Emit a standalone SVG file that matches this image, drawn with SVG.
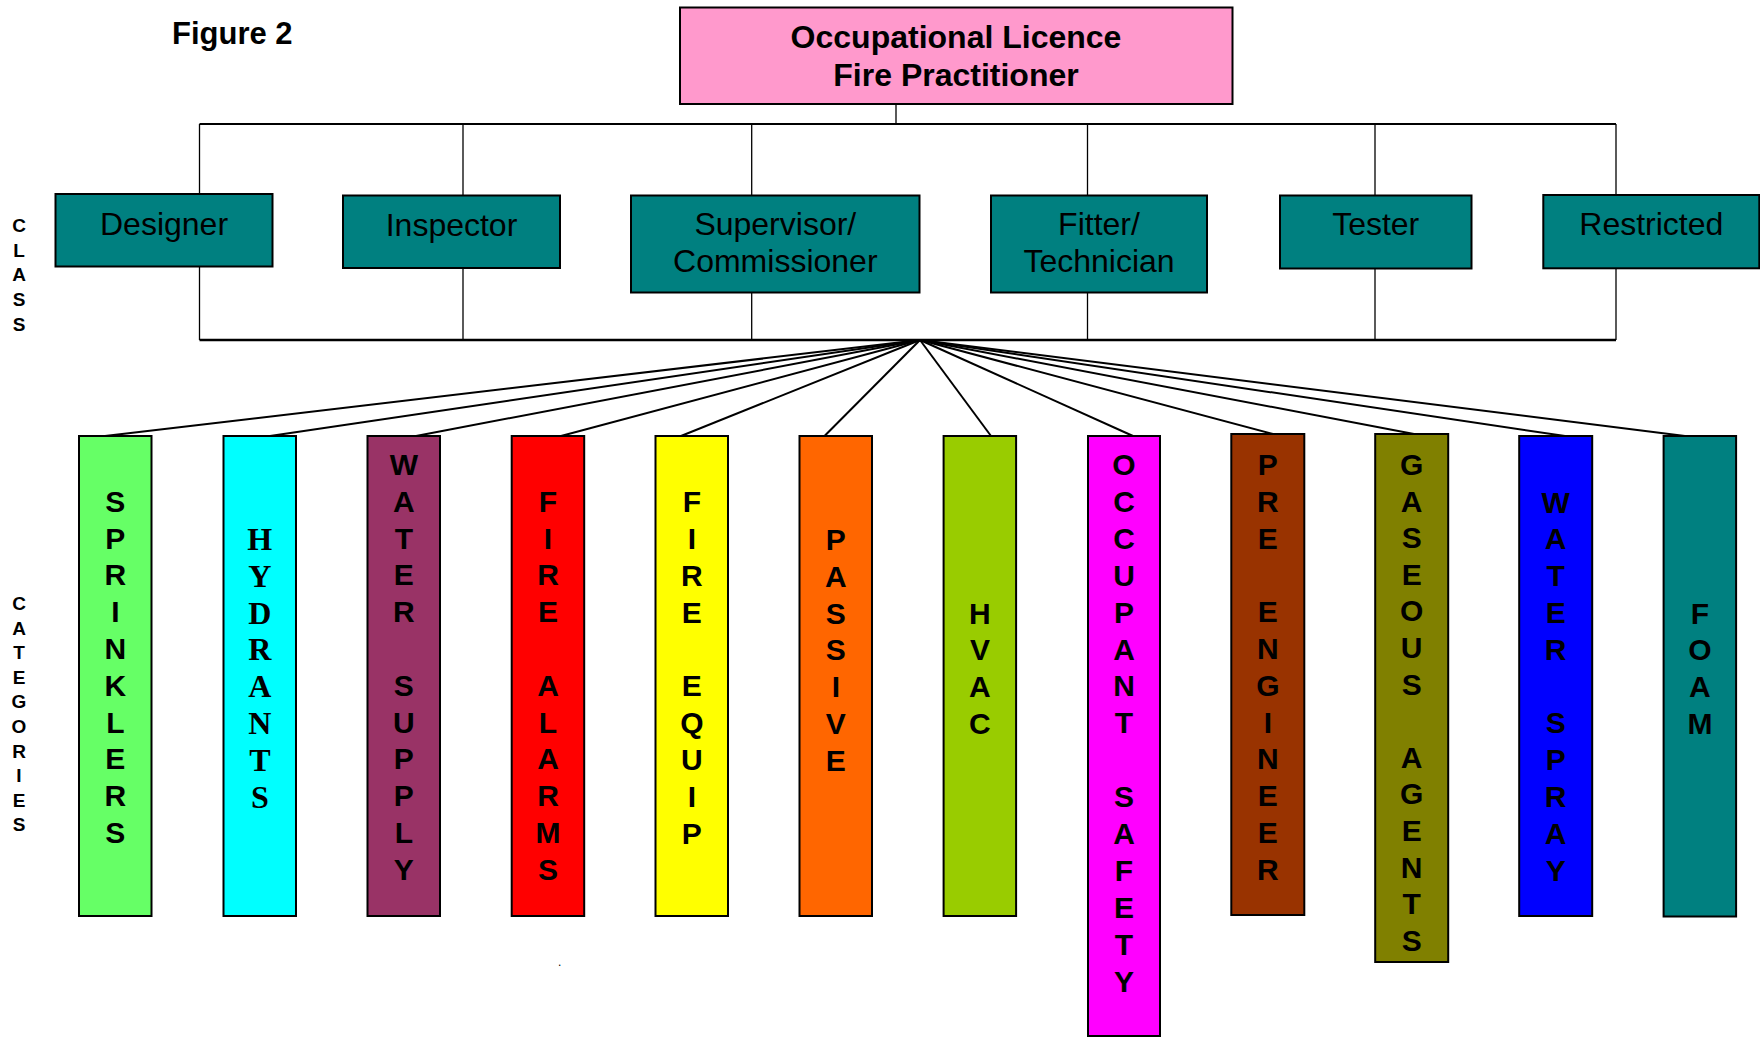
<svg xmlns="http://www.w3.org/2000/svg" width="1760" height="1037" viewBox="0 0 1760 1037">
<style>
  .box{stroke:#000;stroke-width:2}
  .cls{fill:#008080}
  .t{font-family:"Liberation Sans",Arial,sans-serif;fill:#000}
  .ct{font-size:32px;text-anchor:middle}
  .title{font-size:32px;font-weight:bold;text-anchor:middle}
  .side{font-size:19px;font-weight:bold;text-anchor:middle}
  .cat{font-size:30px;font-weight:bold;text-anchor:middle}
  .serif{font-family:"Liberation Serif","Times New Roman",serif;font-size:32px;font-weight:bold;text-anchor:middle;fill:#000}
  .ln{stroke:#000;fill:none}
</style>
<rect width="1760" height="1037" fill="#fff"/>

<text class="t" x="172" y="44" font-size="31" font-weight="bold">Figure 2</text>

<g id="side-labels">
  <text class="t side"><tspan x="19" y="232">C</tspan><tspan x="19" y="256.7">L</tspan><tspan x="19" y="281.4">A</tspan><tspan x="19" y="306.1">S</tspan><tspan x="19" y="330.8">S</tspan></text>
  <text class="t side"><tspan x="19" y="610">C</tspan><tspan x="19" y="634.6">A</tspan><tspan x="19" y="659.2">T</tspan><tspan x="19" y="683.8">E</tspan><tspan x="19" y="708.4">G</tspan><tspan x="19" y="733">O</tspan><tspan x="19" y="757.6">R</tspan><tspan x="19" y="782.2">I</tspan><tspan x="19" y="806.8">E</tspan><tspan x="19" y="831.4">S</tspan></text>
</g>

<g id="connectors">
  <line class="ln" x1="896" y1="104" x2="896" y2="124" stroke-width="1.3"/>
  <line class="ln" x1="199.5" y1="124" x2="1616" y2="124" stroke-width="2"/>
  <line class="ln" x1="199.5" y1="340" x2="1616" y2="340" stroke-width="2.5"/>
  <g stroke-width="1.3" class="ln">
    <line x1="199.5" y1="124" x2="199.5" y2="340"/>
    <line x1="463" y1="124" x2="463" y2="340"/>
    <line x1="751.7" y1="124" x2="751.7" y2="340"/>
    <line x1="1087.5" y1="124" x2="1087.5" y2="340"/>
    <line x1="1375" y1="124" x2="1375" y2="340"/>
    <line x1="1616" y1="124" x2="1616" y2="340"/>
  </g>
  <g stroke-width="2" class="ln">
    <line x1="920" y1="340" x2="105" y2="436"/>
    <line x1="920" y1="340" x2="270" y2="436"/>
    <line x1="920" y1="340" x2="416" y2="436"/>
    <line x1="920" y1="340" x2="561" y2="436"/>
    <line x1="920" y1="340" x2="681" y2="436"/>
    <line x1="920" y1="340" x2="824.5" y2="436"/>
    <line x1="920" y1="340" x2="991" y2="436"/>
    <line x1="920" y1="340" x2="1133" y2="436"/>
    <line x1="920" y1="340" x2="1273" y2="434"/>
    <line x1="920" y1="340" x2="1414" y2="434"/>
    <line x1="920" y1="340" x2="1565" y2="436"/>
    <line x1="920" y1="340" x2="1685" y2="436"/>
  </g>
</g>

<g id="root">
  <rect class="box" x="680" y="7.5" width="552.5" height="96.5" fill="#FF99CC"/>
  <text class="t title" x="956" y="48">Occupational Licence</text>
  <text class="t title" x="956" y="85.5">Fire Practitioner</text>
</g>

<g id="designer">
  <rect class="box cls" x="55.5" y="194" width="217" height="72.5"/>
  <text class="t ct" x="164" y="235">Designer</text>
</g>
<g id="inspector">
  <rect class="box cls" x="343" y="195.5" width="217" height="72.5"/>
  <text class="t ct" x="451.5" y="236">Inspector</text>
</g>
<g id="supervisor">
  <rect class="box cls" x="631" y="195.5" width="288.5" height="97"/>
  <text class="t ct" x="775.3" y="235">Supervisor/</text>
  <text class="t ct" x="775.3" y="272">Commissioner</text>
</g>
<g id="fitter">
  <rect class="box cls" x="991" y="195.5" width="216" height="97"/>
  <text class="t ct" x="1099" y="235">Fitter/</text>
  <text class="t ct" x="1099" y="272">Technician</text>
</g>
<g id="tester">
  <rect class="box cls" x="1280" y="195.5" width="191.5" height="73"/>
  <text class="t ct" x="1375.7" y="235">Tester</text>
</g>
<g id="restricted">
  <rect class="box cls" x="1543.3" y="195" width="216" height="73.3"/>
  <text class="t ct" x="1651.3" y="235">Restricted</text>
</g>

<g id="sprinklers">
  <rect class="box" x="79" y="436" width="72.5" height="480" fill="#66FF66"/>
  <text class="t cat"><tspan x="115.3" y="511.7">S</tspan><tspan x="115.3" y="548.5">P</tspan><tspan x="115.3" y="585.3">R</tspan><tspan x="115.3" y="622.1">I</tspan><tspan x="115.3" y="658.9">N</tspan><tspan x="115.3" y="695.7">K</tspan><tspan x="115.3" y="732.5">L</tspan><tspan x="115.3" y="769.3">E</tspan><tspan x="115.3" y="806.1">R</tspan><tspan x="115.3" y="842.9">S</tspan></text>
</g>
<g id="hydrants">
  <rect class="box" x="223.5" y="436" width="72.5" height="480" fill="#00FFFF"/>
  <text class="serif"><tspan x="259.8" y="550">H</tspan><tspan x="259.8" y="586.8">Y</tspan><tspan x="259.8" y="623.6">D</tspan><tspan x="259.8" y="660.4">R</tspan><tspan x="259.8" y="697.2">A</tspan><tspan x="259.8" y="734">N</tspan><tspan x="259.8" y="770.8">T</tspan><tspan x="259.8" y="807.6">S</tspan></text>
</g>
<g id="water-supply">
  <rect class="box" x="367.5" y="436" width="72.5" height="480" fill="#993366"/>
  <text class="t cat"><tspan x="403.8" y="475">W</tspan><tspan x="403.8" y="511.8">A</tspan><tspan x="403.8" y="548.6">T</tspan><tspan x="403.8" y="585.4">E</tspan><tspan x="403.8" y="622.2">R</tspan><tspan x="403.8" y="695.8">S</tspan><tspan x="403.8" y="732.6">U</tspan><tspan x="403.8" y="769.4">P</tspan><tspan x="403.8" y="806.2">P</tspan><tspan x="403.8" y="843">L</tspan><tspan x="403.8" y="879.8">Y</tspan></text>
</g>
<g id="fire-alarms">
  <rect class="box" x="511.7" y="436" width="72.5" height="480" fill="#FF0000"/>
  <text class="t cat"><tspan x="548" y="511.7">F</tspan><tspan x="548" y="548.5">I</tspan><tspan x="548" y="585.3">R</tspan><tspan x="548" y="622.1">E</tspan><tspan x="548" y="695.7">A</tspan><tspan x="548" y="732.5">L</tspan><tspan x="548" y="769.3">A</tspan><tspan x="548" y="806.1">R</tspan><tspan x="548" y="842.9">M</tspan><tspan x="548" y="879.7">S</tspan></text>
</g>
<g id="fire-equip">
  <rect class="box" x="655.5" y="436" width="72.5" height="480" fill="#FFFF00"/>
  <text class="t cat"><tspan x="691.8" y="512.3">F</tspan><tspan x="691.8" y="549.1">I</tspan><tspan x="691.8" y="585.9">R</tspan><tspan x="691.8" y="622.7">E</tspan><tspan x="691.8" y="696.3">E</tspan><tspan x="691.8" y="733.1">Q</tspan><tspan x="691.8" y="769.9">U</tspan><tspan x="691.8" y="806.7">I</tspan><tspan x="691.8" y="843.5">P</tspan></text>
</g>
<g id="passive">
  <rect class="box" x="799.5" y="436" width="72.5" height="480" fill="#FF6600"/>
  <text class="t cat"><tspan x="835.8" y="550">P</tspan><tspan x="835.8" y="586.8">A</tspan><tspan x="835.8" y="623.6">S</tspan><tspan x="835.8" y="660.4">S</tspan><tspan x="835.8" y="697.2">I</tspan><tspan x="835.8" y="734">V</tspan><tspan x="835.8" y="770.8">E</tspan></text>
</g>
<g id="hvac">
  <rect class="box" x="943.6" y="436" width="72.5" height="480" fill="#99CC00"/>
  <text class="t cat"><tspan x="979.9" y="623.5">H</tspan><tspan x="979.9" y="660.3">V</tspan><tspan x="979.9" y="697.1">A</tspan><tspan x="979.9" y="733.9">C</tspan></text>
</g>
<g id="occupant-safety">
  <rect class="box" x="1088" y="436" width="72" height="600" fill="#FF00FF"/>
  <text class="t cat"><tspan x="1124" y="475">O</tspan><tspan x="1124" y="511.9">C</tspan><tspan x="1124" y="548.8">C</tspan><tspan x="1124" y="585.7">U</tspan><tspan x="1124" y="622.6">P</tspan><tspan x="1124" y="659.5">A</tspan><tspan x="1124" y="696.4">N</tspan><tspan x="1124" y="733.3">T</tspan><tspan x="1124" y="807.1">S</tspan><tspan x="1124" y="844">A</tspan><tspan x="1124" y="880.9">F</tspan><tspan x="1124" y="917.8">E</tspan><tspan x="1124" y="954.7">T</tspan><tspan x="1124" y="991.6">Y</tspan></text>
</g>
<g id="pre-engineer">
  <rect class="box" x="1231.3" y="434" width="73" height="481" fill="#993300"/>
  <text class="t cat"><tspan x="1267.8" y="475">P</tspan><tspan x="1267.8" y="511.8">R</tspan><tspan x="1267.8" y="548.6">E</tspan><tspan x="1267.8" y="622.2">E</tspan><tspan x="1267.8" y="659">N</tspan><tspan x="1267.8" y="695.8">G</tspan><tspan x="1267.8" y="732.6">I</tspan><tspan x="1267.8" y="769.4">N</tspan><tspan x="1267.8" y="806.2">E</tspan><tspan x="1267.8" y="843">E</tspan><tspan x="1267.8" y="879.8">R</tspan></text>
</g>
<g id="gaseous-agents">
  <rect class="box" x="1375.2" y="434" width="73" height="528" fill="#808000"/>
  <text class="t cat"><tspan x="1411.7" y="475">G</tspan><tspan x="1411.7" y="511.6">A</tspan><tspan x="1411.7" y="548.2">S</tspan><tspan x="1411.7" y="584.8">E</tspan><tspan x="1411.7" y="621.4">O</tspan><tspan x="1411.7" y="658">U</tspan><tspan x="1411.7" y="694.6">S</tspan><tspan x="1411.7" y="767.8">A</tspan><tspan x="1411.7" y="804.4">G</tspan><tspan x="1411.7" y="841">E</tspan><tspan x="1411.7" y="877.6">N</tspan><tspan x="1411.7" y="914.2">T</tspan><tspan x="1411.7" y="950.8">S</tspan></text>
</g>
<g id="water-spray">
  <rect class="box" x="1519.2" y="436" width="73" height="480" fill="#0000FF"/>
  <text class="t cat"><tspan x="1555.7" y="512.5">W</tspan><tspan x="1555.7" y="549.3">A</tspan><tspan x="1555.7" y="586.1">T</tspan><tspan x="1555.7" y="622.9">E</tspan><tspan x="1555.7" y="659.7">R</tspan><tspan x="1555.7" y="733.3">S</tspan><tspan x="1555.7" y="770.1">P</tspan><tspan x="1555.7" y="806.9">R</tspan><tspan x="1555.7" y="843.7">A</tspan><tspan x="1555.7" y="880.5">Y</tspan></text>
</g>
<g id="foam">
  <rect class="box" x="1663.6" y="436" width="72.5" height="480.5" fill="#008080"/>
  <text class="t cat"><tspan x="1699.9" y="623.5">F</tspan><tspan x="1699.9" y="660.3">O</tspan><tspan x="1699.9" y="697.1">A</tspan><tspan x="1699.9" y="733.9">M</tspan></text>
</g>

<text class="t" x="558" y="966" font-size="12">.</text>
</svg>
